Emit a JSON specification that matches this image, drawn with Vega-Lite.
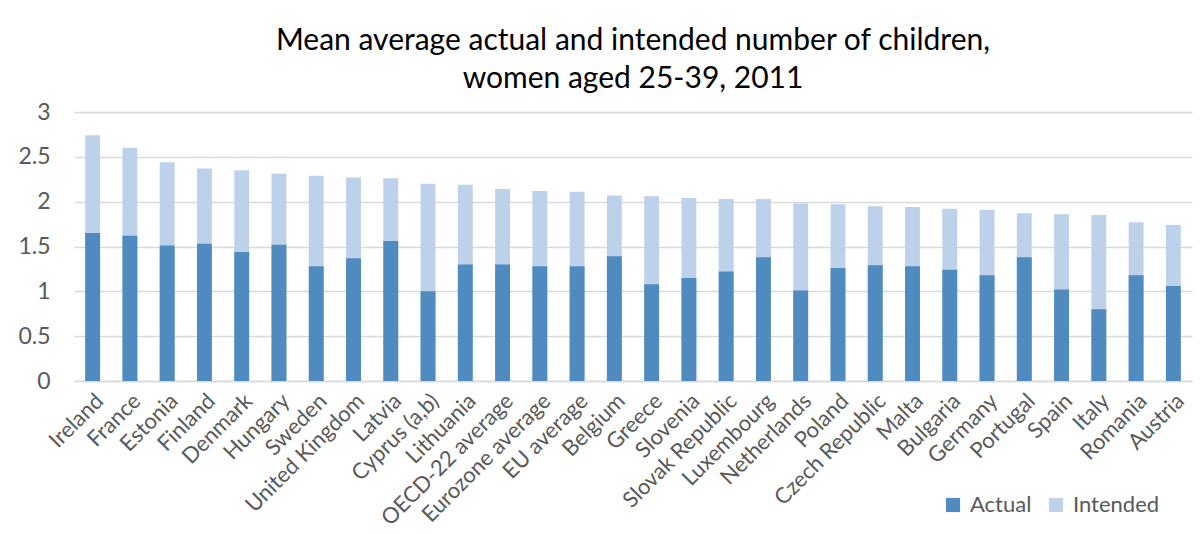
{
  "$schema": "https://vega.github.io/schema/vega-lite/v6.json",
  "width": 1118,
  "height": 269,
  "autosize": {"type": "none"},
  "padding": {"left": 74, "top": 112, "right": 11, "bottom": 153},
  "background": "white",
  "title": {
    "text": ["Mean average actual and intended number of children,", "women aged 25-39, 2011"],
    "font": "Lato",
    "fontSize": 30,
    "fontWeight": "normal",
    "color": "#000000",
    "anchor": "middle",
    "lineHeight": 38,
    "offset": 7
  },
  "data": {
    "values": [
      {"country": "Ireland", "series": "Intended", "value": 2.74},
      {"country": "France", "series": "Intended", "value": 2.60},
      {"country": "Estonia", "series": "Intended", "value": 2.44},
      {"country": "Finland", "series": "Intended", "value": 2.37},
      {"country": "Denmark", "series": "Intended", "value": 2.35},
      {"country": "Hungary", "series": "Intended", "value": 2.31},
      {"country": "Sweden", "series": "Intended", "value": 2.29},
      {"country": "United Kingdom", "series": "Intended", "value": 2.27},
      {"country": "Latvia", "series": "Intended", "value": 2.26},
      {"country": "Cyprus (a,b)", "series": "Intended", "value": 2.20},
      {"country": "Lithuania", "series": "Intended", "value": 2.19},
      {"country": "OECD-22 average", "series": "Intended", "value": 2.14},
      {"country": "Eurozone average", "series": "Intended", "value": 2.12},
      {"country": "EU average", "series": "Intended", "value": 2.11},
      {"country": "Belgium", "series": "Intended", "value": 2.07},
      {"country": "Greece", "series": "Intended", "value": 2.06},
      {"country": "Slovenia", "series": "Intended", "value": 2.04},
      {"country": "Slovak Republic", "series": "Intended", "value": 2.03},
      {"country": "Luxembourg", "series": "Intended", "value": 2.03},
      {"country": "Netherlands", "series": "Intended", "value": 1.98},
      {"country": "Poland", "series": "Intended", "value": 1.97},
      {"country": "Czech Republic", "series": "Intended", "value": 1.95},
      {"country": "Malta", "series": "Intended", "value": 1.94},
      {"country": "Bulgaria", "series": "Intended", "value": 1.92},
      {"country": "Germany", "series": "Intended", "value": 1.91},
      {"country": "Portugal", "series": "Intended", "value": 1.87},
      {"country": "Spain", "series": "Intended", "value": 1.86},
      {"country": "Italy", "series": "Intended", "value": 1.85},
      {"country": "Romania", "series": "Intended", "value": 1.77},
      {"country": "Austria", "series": "Intended", "value": 1.74},
      {"country": "Ireland", "series": "Actual", "value": 1.65},
      {"country": "France", "series": "Actual", "value": 1.62},
      {"country": "Estonia", "series": "Actual", "value": 1.51},
      {"country": "Finland", "series": "Actual", "value": 1.53},
      {"country": "Denmark", "series": "Actual", "value": 1.44},
      {"country": "Hungary", "series": "Actual", "value": 1.52},
      {"country": "Sweden", "series": "Actual", "value": 1.28},
      {"country": "United Kingdom", "series": "Actual", "value": 1.37},
      {"country": "Latvia", "series": "Actual", "value": 1.56},
      {"country": "Cyprus (a,b)", "series": "Actual", "value": 1.00},
      {"country": "Lithuania", "series": "Actual", "value": 1.30},
      {"country": "OECD-22 average", "series": "Actual", "value": 1.30},
      {"country": "Eurozone average", "series": "Actual", "value": 1.28},
      {"country": "EU average", "series": "Actual", "value": 1.28},
      {"country": "Belgium", "series": "Actual", "value": 1.39},
      {"country": "Greece", "series": "Actual", "value": 1.08},
      {"country": "Slovenia", "series": "Actual", "value": 1.15},
      {"country": "Slovak Republic", "series": "Actual", "value": 1.22},
      {"country": "Luxembourg", "series": "Actual", "value": 1.38},
      {"country": "Netherlands", "series": "Actual", "value": 1.01},
      {"country": "Poland", "series": "Actual", "value": 1.26},
      {"country": "Czech Republic", "series": "Actual", "value": 1.29},
      {"country": "Malta", "series": "Actual", "value": 1.28},
      {"country": "Bulgaria", "series": "Actual", "value": 1.24},
      {"country": "Germany", "series": "Actual", "value": 1.18},
      {"country": "Portugal", "series": "Actual", "value": 1.38},
      {"country": "Spain", "series": "Actual", "value": 1.02},
      {"country": "Italy", "series": "Actual", "value": 0.80},
      {"country": "Romania", "series": "Actual", "value": 1.18},
      {"country": "Austria", "series": "Actual", "value": 1.06}
    ]
  },
  "mark": {"type": "bar"},
  "encoding": {
    "x": {
      "field": "country",
      "type": "nominal",
      "sort": null,
      "title": null,
      "scale": {"paddingInner": 0.6, "paddingOuter": 0.3},
      "axis": {
        "labelAngle": -45,
        "labelFont": "Lato",
        "labelFontSize": 22,
        "labelColor": "#595959",
        "labelPadding": 9,
        "ticks": false,
        "domainColor": "#d9d9d9",
        "domainWidth": 1.5,
        "labelLimit": 300
      }
    },
    "y": {
      "field": "value",
      "type": "quantitative",
      "stack": null,
      "title": null,
      "scale": {"domain": [0, 3], "nice": false},
      "axis": {
        "values": [0, 0.5, 1, 1.5, 2, 2.5, 3],
        "format": "~g",
        "domain": false,
        "ticks": false,
        "labelFont": "Lato",
        "labelFontSize": 23,
        "labelColor": "#595959",
        "labelPadding": 24,
        "gridColor": "#d9d9d9",
        "gridWidth": 1.5
      }
    },
    "color": {
      "field": "series",
      "type": "nominal",
      "scale": {"domain": ["Actual", "Intended"], "range": ["#4f8bbe", "#bdd2ea"]},
      "legend": {
        "title": null,
        "orient": "none",
        "direction": "horizontal",
        "legendX": 868,
        "legendY": 382,
        "symbolType": "square",
        "symbolSize": 200,
        "symbolStrokeWidth": 0,
        "labelFont": "Lato",
        "labelFontSize": 22,
        "labelColor": "#595959",
        "columnPadding": 13,
        "labelOffset": 6
      }
    }
  },
  "config": {
    "view": {"stroke": null}
  }
}
